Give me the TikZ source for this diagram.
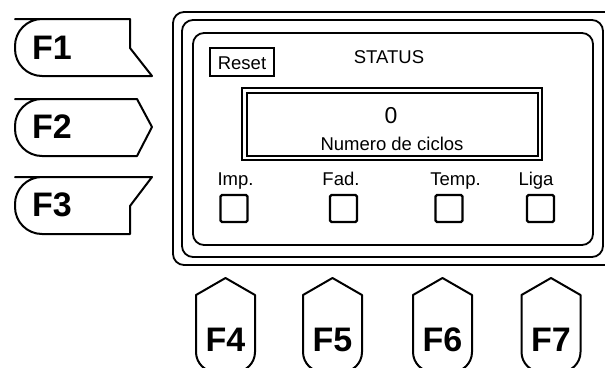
\documentclass[tikz,border=0pt]{standalone}
\usepackage{fontspec}
\setmainfont{Liberation Sans}
\usetikzlibrary{positioning}

\begin{document}
\begin{tikzpicture}[
    x=1pt, y=-1pt,
    fkey/.style={draw=black, line width=2pt, line join=round},
    flabel/.style={font=\fontsize{34}{34}\selectfont\bfseries, inner sep=0pt},
    frame/.style={draw=black, line width=1.8pt, rounded corners=11pt},
    lbl/.style={font=\fontsize{18.5}{20}\selectfont, inner sep=0pt, anchor=base},
    led/.style={draw=black, line width=2.2pt, rounded corners=1.5pt, minimum width=27pt, minimum height=27pt, inner sep=0pt}
  ]
    \useasboundingbox (0,0) rectangle (605,367);
    \clip (0,0) rectangle (605,367);

    % side keys
    \draw[fkey] (152,76) -- (42,76) [rounded corners=27pt] -- (15,76) -- (15,19) -- (42,19) [sharp corners] -- (130,19) -- (130,48) -- cycle;
    \draw[fkey] (137,156) -- (42,156) [rounded corners=27pt] -- (15,156) -- (15,99) -- (42,99) [sharp corners] -- (137,99) -- (152,127) -- cycle;
    \draw[fkey] (130,234) -- (42,234) [rounded corners=27pt] -- (15,234) -- (15,177) -- (42,177) [sharp corners] -- (152,177) -- (130,206) -- cycle;
    \node[flabel] (f1) at (52,48) {F1};
    \node[flabel] (f2) at (52,127) {F2};
    \node[flabel] (f3) at (52,205) {F3};

    % bottom keys
    \foreach \cx/\name in {225.5/F4, 332.5/F5, 442.5/F6, 551/F7}{
      \draw[fkey] (\cx,278) -- (\cx+29.5,295) [rounded corners=20pt] -- (\cx+29.5,372) -- (\cx-29.5,372) [sharp corners] -- (\cx-29.5,295) -- cycle;
      \node[flabel] (\name) at (\cx,340) {\name};
    }

    % panel
    \draw[frame] (173,12) rectangle (640,265);
    \draw[frame] (182,20) rectangle (603,257);
    \draw[frame] (193,33) rectangle (593,245);

    \draw[draw=black, line width=2.2pt] (210,48) rectangle (274,76);
    \node[lbl] (reset) at (242,69) {Reset};
    \node[lbl] (status) at (389,63) {STATUS};

    % display
    \draw[draw=black, line width=2pt] (242,88) rectangle (542,160);
    \draw[draw=black, line width=1.8pt] (247,93) rectangle (538,156);
    \node[lbl, font=\fontsize{23}{24}\selectfont] (count) at (391,123) {0};
    \node[lbl] (cycles) at (392,150) {Numero de ciclos};

    % indicators
    \node[lbl] (imp) at (235.5,185) {Imp.};
    \node[lbl] (fad) at (341,185) {Fad.};
    \node[lbl] (temp) at (455.5,185) {Temp.};
    \node[lbl] (liga) at (536,185) {Liga};
    \node[led] (ledimp) at (234,208.5) {};
    \node[led] (ledfad) at (343.5,208.5) {};
    \node[led] (ledtemp) at (449,208.5) {};
    \node[led] (ledliga) at (540.5,208.5) {};
  \end{tikzpicture}
\end{document}
